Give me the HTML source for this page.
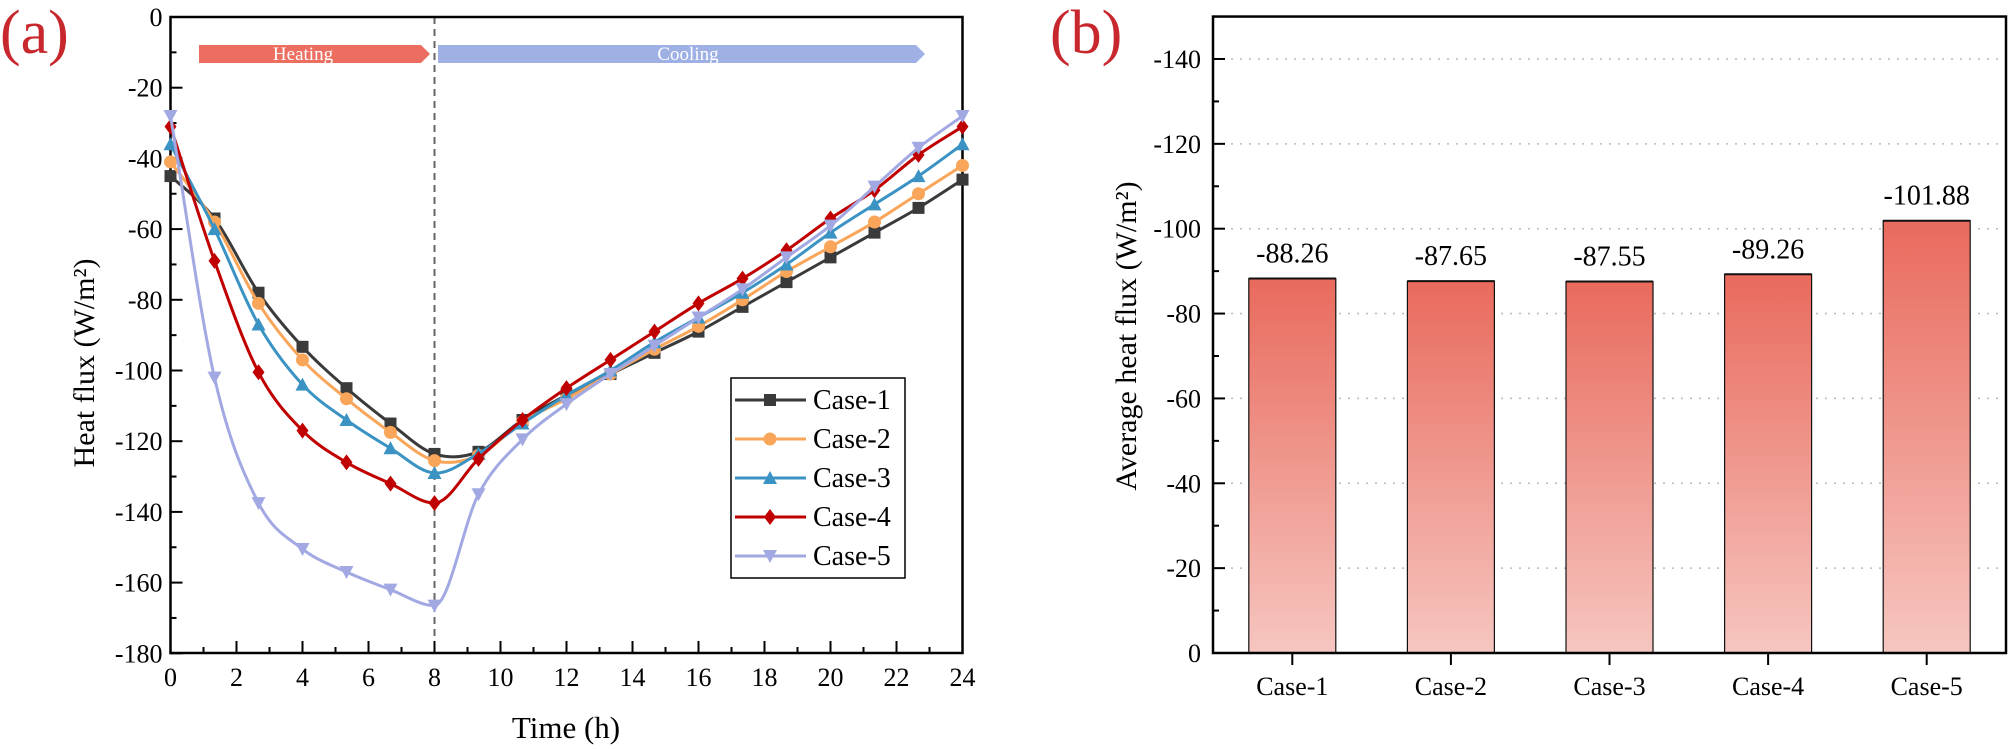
<!DOCTYPE html>
<html><head><meta charset="utf-8"><style>
html,body{margin:0;padding:0;background:#fff;}
svg{display:block;}
text{font-family:"Liberation Serif",serif;}
</style></head><body>
<svg id="s" width="2008" height="749" viewBox="0 0 2008 749" xmlns="http://www.w3.org/2000/svg" font-family="Liberation Serif, serif">
<defs>
<linearGradient id="bg" x1="0" y1="0" x2="0" y2="1">
<stop offset="0" stop-color="#e96a5d"/><stop offset="1" stop-color="#f6c6c0"/>
</linearGradient>
</defs>
<g id="g" font-family="Liberation Serif, serif"></g>
</svg>
<script>
const g=document.getElementById('g');let h='';
const X0=170.5,PX=33.0,Y0=17,PY=70.7/20;
const xs=t=>X0+t*PX, ys=v=>Y0-v*PY;
h+=`<text x="0" y="53" font-size="62" fill="#c8282d">(a)</text>`;
h+=`<polygon points="199,45 421,45 430,54 421,63 199,63" fill="#ec6e61"/>`;
h+=`<text x="303" y="60" font-size="19" fill="#fff" text-anchor="middle">Heating</text>`;
h+=`<polygon points="438,45 916,45 925,54 916,63 438,63" fill="#9eb0e4"/>`;
h+=`<text x="688" y="60" font-size="19" fill="#fff" text-anchor="middle">Cooling</text>`;
h+=`<line x1="${xs(8)}" y1="${Y0}" x2="${xs(8)}" y2="${ys(-180)}" stroke="#666" stroke-width="2" stroke-dasharray="7,5"/>`;
for(let t=0;t<=24;t++){const x=xs(t),L=t%2?6:12;h+=`<line x1="${x}" y1="653" x2="${x}" y2="${653-L}" stroke="#000" stroke-width="2"/>`;
 if(t%2==0)h+=`<text x="${x}" y="686" font-size="26" text-anchor="middle">${t}</text>`;}
for(let v=0;v>=-180;v-=10){const y=ys(v),L=v%20?6:12;h+=`<line x1="${X0}" y1="${y}" x2="${X0+L}" y2="${y}" stroke="#000" stroke-width="2"/>`;
 if(v%20==0)h+=`<text x="${X0-8}" y="${y+9}" font-size="26" text-anchor="end">${v}</text>`;}
h+=`<rect x="${X0}" y="${Y0}" width="${xs(24)-X0}" height="${653-Y0}" fill="none" stroke="#000" stroke-width="2.5"/>`;
h+=`<text x="566" y="738" font-size="31" text-anchor="middle">Time (h)</text>`;
h+=`<text transform="translate(94,363) rotate(-90)" font-size="30" text-anchor="middle">Heat flux (W/m²)</text>`;
const T=[];for(let i=0;i<=18;i++)T.push(i*4/3);
const S=[
{c:'#3a3a3a',m:'sq',n:'Case-1',d:[-45,-57,-78,-93.3,-105,-115,-123.6,-123,-114,-107,-101,-95,-89,-82,-75,-68,-61,-54,-46]},
{c:'#f9a65a',m:'ci',n:'Case-2',d:[-41,-58,-81,-97,-108,-117.5,-125.5,-124,-114.5,-108,-101,-94,-87.5,-80,-72,-65,-58,-50,-42]},
{c:'#3b93c3',m:'tu',n:'Case-3',d:[-36,-60,-87,-104,-114,-122,-129,-123.5,-115,-107,-100,-92,-85,-78,-70,-61,-53,-45,-36]},
{c:'#c00000',m:'di',n:'Case-4',mono:1,d:[-31,-69,-100.5,-117,-126,-132,-137.5,-125,-114,-105,-97,-89,-81,-74,-66,-57,-49,-39,-31]},
{c:'#a2a9e2',m:'td',n:'Case-5',mono:1,d:[-28,-102,-137.5,-150.5,-157,-162,-166.5,-135,-119.5,-109.5,-101,-93,-85,-77,-68,-59,-48,-37,-28]}];
function mk(m,x,y,c){const r=6;
 if(m=='sq')return `<rect x="${x-r}" y="${y-r}" width="${2*r}" height="${2*r}" fill="${c}"/>`;
 if(m=='ci')return `<circle cx="${x}" cy="${y}" r="${r+0.5}" fill="${c}"/>`;
 if(m=='tu')return `<polygon points="${x},${y-r-1} ${x-r-1},${y+r} ${x+r+1},${y+r}" fill="${c}"/>`;
 if(m=='td')return `<polygon points="${x},${y+r+1} ${x-r-1},${y-r} ${x+r+1},${y-r}" fill="${c}"/>`;
 return `<polygon points="${x},${y-r-2} ${x-r},${y} ${x},${y+r+2} ${x+r},${y}" fill="${c}"/>`;}
function monoPath(P){const n=P.length,dx=[],sl=[],m=[];
 for(let i=0;i<n-1;i++){dx.push(P[i+1][0]-P[i][0]);sl.push((P[i+1][1]-P[i][1])/dx[i]);}
 m[0]=sl[0];m[n-1]=sl[n-2];
 for(let i=1;i<n-1;i++){m[i]=sl[i-1]*sl[i]<=0?0:(sl[i-1]+sl[i])/2;}
 for(let i=0;i<n-1;i++){if(sl[i]==0){m[i]=m[i+1]=0;continue;}const a=m[i]/sl[i],b=m[i+1]/sl[i],s=a*a+b*b;if(s>9){const t=3/Math.sqrt(s);m[i]=t*a*sl[i];m[i+1]=t*b*sl[i];}}
 let d=`M${P[0][0]},${P[0][1]}`;
 for(let i=0;i<n-1;i++){const h3=dx[i]/3;d+=` C${P[i][0]+h3},${P[i][1]+m[i]*h3} ${P[i+1][0]-h3},${P[i+1][1]-m[i+1]*h3} ${P[i+1][0]},${P[i+1][1]}`;}
 return d;}
function crPath(P){let d=`M${P[0][0]},${P[0][1]}`;
 for(let i=0;i<P.length-1;i++){const p0=P[Math.max(0,i-1)],p1=P[i],p2=P[i+1],p3=P[Math.min(P.length-1,i+2)];
  d+=` C${p1[0]+(p2[0]-p0[0])/6},${p1[1]+(p2[1]-p0[1])/6} ${p2[0]-(p3[0]-p1[0])/6},${p2[1]-(p3[1]-p1[1])/6} ${p2[0]},${p2[1]}`;}
 return d;}
S.forEach(s=>{const P=T.map((t,i)=>[xs(t),ys(s.d[i])]);const d=s.mono?monoPath(P):crPath(P);
 h+=`<path d="${d}" fill="none" stroke="${s.c}" stroke-width="3"/>`;
 P.forEach(p=>h+=mk(s.m,p[0],p[1],s.c));});
h+=`<rect x="731" y="378" width="174" height="200" fill="#fff" stroke="#000" stroke-width="1.5"/>`;
S.forEach((s,i)=>{const y=400+i*39;h+=`<line x1="735" y1="${y}" x2="806" y2="${y}" stroke="${s.c}" stroke-width="3"/>`+mk(s.m,770,y,s.c)+
 `<text x="813" y="${y+9}" font-size="28">${s.n}</text>`;});
// Right plot
const RX0=1213,RX1=2006,RB=653,RP=84.86/20;const ry=v=>RB-v*RP;
h+=`<text x="1050" y="53" font-size="62" fill="#c8282d">(b)</text>`;
for(let v=20;v<=140;v+=20)h+=`<line x1="${RX0}" y1="${ry(v)}" x2="${RX1}" y2="${ry(v)}" stroke="#bbb" stroke-width="1.5" stroke-dasharray="2,7"/>`;
const bv=[88.26,87.65,87.55,89.26,101.88],bw=(RX1-RX0)/5;
bv.forEach((v,i)=>{const cx=RX0+bw*(i+0.5),w=87;
 h+=`<rect x="${cx-w/2}" y="${ry(v)}" width="${w}" height="${RB-ry(v)}" fill="url(#bg)" stroke="#111" stroke-width="1.2"/>`;
 h+=`<line x1="${cx-w/2}" y1="${ry(v)}" x2="${cx+w/2}" y2="${ry(v)}" stroke="#111" stroke-width="2"/>`;
 h+=`<text x="${cx}" y="${ry(v)-16}" font-size="28" text-anchor="middle">-${v.toFixed(2)}</text>`;
 h+=`<line x1="${cx}" y1="${RB}" x2="${cx}" y2="${RB+12}" stroke="#000" stroke-width="2"/>`;
 h+=`<text x="${cx}" y="${RB+42}" font-size="26" text-anchor="middle">Case-${i+1}</text>`;});
for(let v=0;v<=150;v+=10){const y=ry(v),L=v%20?6:12;h+=`<line x1="${RX0}" y1="${y}" x2="${RX0+L}" y2="${y}" stroke="#000" stroke-width="2"/>`;
 if(v%20==0)h+=`<text x="${RX0-12}" y="${y+9}" font-size="26" text-anchor="end">${v?'-'+v:'0'}</text>`;}
h+=`<rect x="${RX0}" y="${ry(150)}" width="${RX1-RX0}" height="${RB-ry(150)}" fill="none" stroke="#000" stroke-width="2.5"/>`;
h+=`<text transform="translate(1136,336) rotate(-90)" font-size="30" text-anchor="middle">Average heat flux (W/m²)</text>`;
g.innerHTML=h;
</script>
</body></html>
